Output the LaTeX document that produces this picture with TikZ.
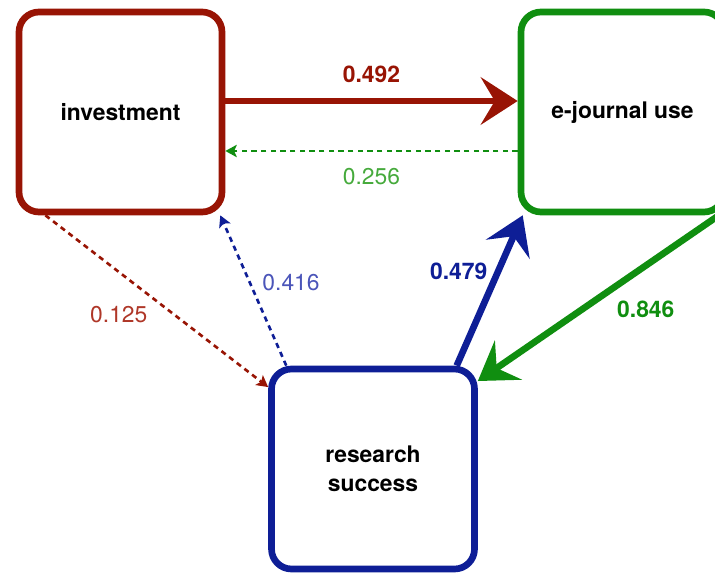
\documentclass[tikz,border=0pt]{standalone}
\usepackage{fontspec}
\setmainfont{TeX Gyre Heros}
\usetikzlibrary{arrows.meta}
\definecolor{invred}{RGB}{152,20,4}
\definecolor{usegreen}{RGB}{16,142,16}
\definecolor{sucblue}{RGB}{14,30,150}
\definecolor{labred}{RGB}{175,55,40}
\definecolor{labgreen}{RGB}{70,170,60}
\definecolor{labblue}{RGB}{75,85,185}
\tikzstyle{block} = [rectangle, draw, line width=3.8pt, rounded corners=0.4cm,
    minimum width=4.06cm, minimum height=4cm, text centered,
    font=\fontsize{13}{16.4}\selectfont\bfseries]
\tikzstyle{strong} = [draw, line width=3.8pt,
    -{Stealth[length=21pt, width=27pt, inset=8pt]}]
\tikzstyle{weak} = [draw, line width=1.5pt, dash pattern=on 3pt off 2.5pt,
    -{Stealth[length=6.5pt, width=7pt, inset=1.5pt]}]
\tikzstyle{coef} = [font=\fontsize{13}{15}\selectfont]

\begin{document}
\begin{tikzpicture}[node distance = 10.04cm]
        \useasboundingbox (0,0) rectangle (14.3,-11.5);
        % Place nodes
        \node [block, draw=invred] (investment) at (2.41,-2.24) {investment};
        \node [block, draw=usegreen, right of=investment] (ejournal) {e-journal use};
        \node [block, draw=sucblue, below of=investment, node distance=7.14cm,
            xshift=5.05cm, align=center] (success) {research\\success};
        % Draw edges
        \path [strong, invred] ([yshift=0.22cm]investment.east) --
            node [coef, above=5pt] {\bfseries 0.492} ([yshift=0.22cm]ejournal.west);
        \path [weak, usegreen] ([yshift=-0.78cm]ejournal.west) --
            node [coef, below=6pt, text=labgreen] {0.256} ([yshift=-0.78cm]investment.east);
        \path [weak, invred] (investment.234) --
            node [coef, pos=0.49, below left, text=labred] {0.125} (success.142);
        \path [weak, sucblue] (success.130) --
            node [coef, pos=0.55, right=3pt, text=labblue] {0.416} (investment.-46);
        \path [strong, sucblue] (success.51) --
            node [coef, pos=0.63, left=1pt] {\bfseries 0.479} (ejournal.226);
        \path [strong, usegreen] (ejournal.-47) --
            node [coef, pos=0.46, below right] {\bfseries 0.846} (success.40);
    \end{tikzpicture}
\end{document}
